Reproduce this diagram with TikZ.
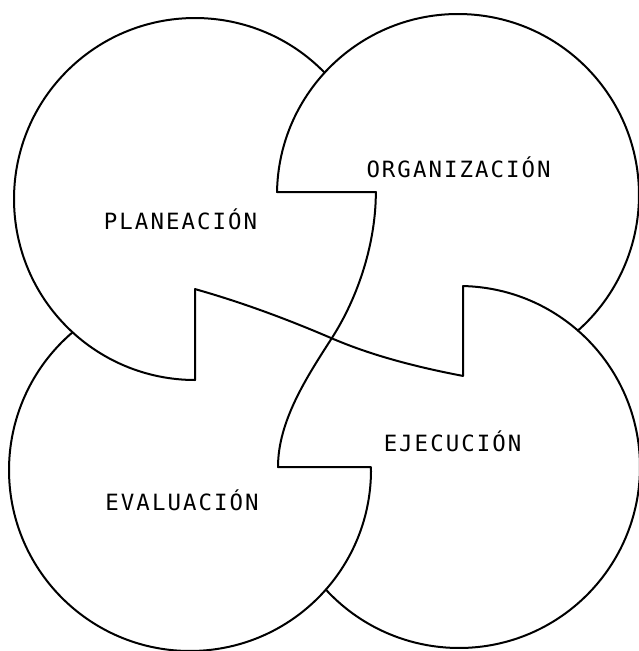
\documentclass[tikz,border=0pt]{standalone}
\usepackage{fontspec}
\newfontfamily\labelfont[LetterSpace=9]{DejaVu Sans Mono}
\begin{document}
\begin{tikzpicture}[x=1pt,y=-1pt,
  outline/.style={draw=black, line width=2pt, line join=round, line cap=round},
  lbl/.style={font=\labelfont\fontsize{22.4}{26}\selectfont, inner sep=0pt, anchor=base}]
\fill[white] (0,0) rectangle (638,651);
\useasboundingbox (0,0) rectangle (638,651);
% circle centres (radius 181)
\coordinate (cTL) at (195,199);
\coordinate (cTR) at (458,195);
\coordinate (cBL) at (190,470);
\coordinate (cBR) at (459,467);
% notch corner points and crossing point
\coordinate (tlB) at (195,380);
\coordinate (blT) at (195,289.07);
\coordinate (trB) at (463,375.93);
\coordinate (brT) at (463,286.04);
\coordinate (tlR) at (375.86,192);
\coordinate (trL) at (277.02,192);
\coordinate (brL) at (278,467);
\coordinate (blR) at (370.98,467);
\coordinate (X) at (331.7,338.3);
% PLANEACION outline
\draw[outline] ([shift={(-44.28:181)}]cTL) arc[start angle=-44.28, end angle=-270, radius=181]
  -- (blT);
% curve from the planeacion notch through the centre to the ejecucion notch
\draw[outline] (blT) .. controls (241.2,302.1) and (287.6,319.3) .. (X)
  .. controls (373.1,356.1) and (418.8,367.5) .. (trB) -- (brT);
% EJECUCION outline
\draw[outline] (brT) arc[start angle=-88.73, end angle=137.36, radius=181];
% EVALUACION outline
\draw[outline] (brL) -- (blR) arc[start angle=-0.95, end angle=229.53, radius=181];
% S curve through the centre
\draw[outline] (tlR) .. controls (375.86,242) and (358.75,296.25) .. (X)
  .. controls (306.8,377.0) and (278,421) .. (brL);
% ORGANIZACION outline
\draw[outline] (tlR) -- (trL) arc[start angle=180.95, end angle=408.51, radius=181];
% labels
\node[lbl] (plan) at (180.5,229.3) {PLANEACIÓN};
\node[lbl] (org) at (458.5,177.3) {ORGANIZACIÓN};
\node[lbl] (eje) at (452.5,451.7) {EJECUCIÓN};
\node[lbl] (eva) at (182,510) {EVALUACIÓN};
\end{tikzpicture}
\end{document}
